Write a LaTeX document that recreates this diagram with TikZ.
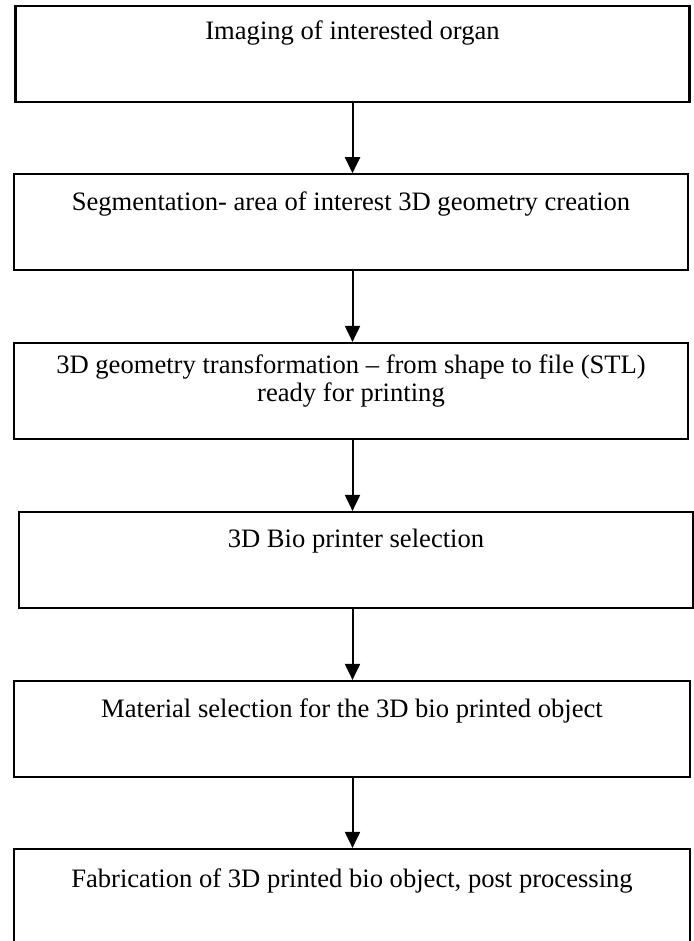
\documentclass[tikz,border=0pt]{standalone}
\usepackage{fontspec}
\setmainfont{Liberation Serif}
\usetikzlibrary{positioning,arrows.meta}

\tikzset{
	stepbox/.style={draw=black,line width=1.1pt,minimum width=337pt,minimum height=48pt,inner sep=0pt},
	steptext/.style={inner sep=0pt,align=center,anchor=base,font=\fontsize{13.3}{14.2}\selectfont},
	flow/.style={-{Triangle[width=7.5pt,length=8pt]},line width=1pt}
}

\begin{document}
\begin{tikzpicture}[x=0.5pt,y=-0.5pt]
	\clip (0,0) rectangle (694,941);

% boxes
	\node[stepbox] (imaging) at (352.5,53.7) {};
	\node[steptext,below=17.5pt of imaging.north,anchor=base] (imagingtxt) {Imaging of interested organ};

	\node[stepbox] (segment) at (351,222.3) {};
	\node[steptext,below=18.5pt of segment.north,anchor=base] (segmenttxt) {Segmentation- area of interest 3D geometry creation};

	\node[stepbox] (stl) at (351,391) {};
	\node[steptext,below=6pt of stl.north] (stltxt) {3D geometry transformation -- from shape to file (STL)\\ready for printing};

	\node[stepbox] (printer) at (356,560) {};
	\node[steptext,below=18.5pt of printer.north,anchor=base] (printertxt) {3D Bio printer selection};

	\node[stepbox,minimum width=338pt] (material) at (352,729) {};
	\node[steptext,below=19pt of material.north,anchor=base] (materialtxt) {Material selection for the 3D bio printed object};

	\node[stepbox,minimum width=338pt] (fabric) at (352,897) {};
	\node[steptext,below=20pt of fabric.north,anchor=base] (fabrictxt) {Fabrication of 3D printed bio object, post processing};

	%Links
	\draw[flow] (imaging.south) -- (imaging.south |- segment.north);
	\draw[flow] (imaging.south |- segment.south) -- (imaging.south |- stl.north);
	\draw[flow] (imaging.south |- stl.south) -- (imaging.south |- printer.north);
	\draw[flow] (imaging.south |- printer.south) -- (imaging.south |- material.north);
	\draw[flow] (imaging.south |- material.south) -- (imaging.south |- fabric.north);
\end{tikzpicture}
\end{document}
